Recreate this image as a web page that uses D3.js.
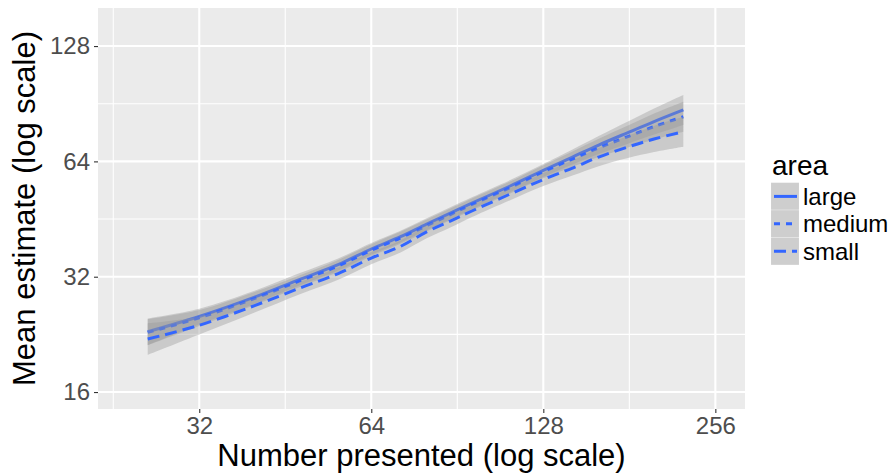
<!DOCTYPE html>
<html>
<head>
<meta charset="utf-8">
<script src="https://cdn.jsdelivr.net/npm/d3@7"></script>
<style>
  body { margin: 0; background: #fff; }
  text { font-family: "Liberation Sans", Arial, sans-serif; }
</style>
</head>
<body>
<svg id="chart"></svg>
<script>
// number presented (x) at which the smooths were sampled
const presented = [26, 32, 40, 48, 56, 64, 72, 80, 88, 96, 112, 128, 144, 160, 180, 200, 225];

const largeMean  = [23.0, 25.2, 28.3, 31.5, 34.4, 37.8, 40.7, 43.9, 46.9, 49.8, 55.2, 60.6, 65.7, 70.6, 76.1, 81.3, 87.2];
const largeLow   = [21.2, 24.0, 27.2, 30.4, 33.2, 36.5, 39.3, 42.3, 45.2, 48.0, 53.2, 58.3, 62.8, 66.9, 71.2, 75.2, 79.7];
const largeHigh  = [24.9, 26.4, 29.4, 32.7, 35.7, 39.2, 42.2, 45.5, 48.6, 51.6, 57.2, 63.0, 68.7, 74.5, 81.3, 87.9, 95.4];

const mediumMean = [22.9, 25.0, 28.1, 31.2, 34.1, 37.5, 40.4, 43.5, 46.5, 49.4, 54.7, 60.1, 64.9, 69.4, 74.3, 78.9, 83.7];
const mediumLow  = [21.2, 23.8, 27.0, 30.1, 32.9, 36.2, 39.0, 42.0, 44.9, 47.7, 52.8, 57.8, 62.0, 65.7, 69.6, 73.0, 76.5];
const mediumHigh = [24.8, 26.2, 29.2, 32.3, 35.4, 38.9, 41.9, 45.1, 48.2, 51.2, 56.7, 62.5, 67.9, 73.3, 79.4, 85.3, 91.6];

const smallMean  = [22.0, 23.9, 26.9, 29.9, 32.6, 35.8, 38.4, 41.9, 44.7, 47.5, 52.6, 57.4, 61.5, 65.7, 69.8, 73.2, 76.5];
const smallLow   = [20.0, 22.6, 25.8, 28.8, 31.4, 34.5, 37.0, 40.3, 43.0, 45.8, 50.7, 55.2, 58.8, 62.2, 65.3, 67.7, 69.9];
const smallHigh  = [24.2, 25.2, 28.1, 31.0, 33.8, 37.1, 39.8, 43.6, 46.5, 49.2, 54.5, 59.7, 64.3, 69.4, 74.6, 79.2, 83.7];

const areas = ["large", "medium", "small"];
const xTicks = [32, 64, 128, 256];
const yTicks = [16, 32, 64, 128];
const xMinor = [22.63, 45.25, 90.51, 181.02];
const yMinor = [22.63, 45.25, 90.51];

const width = 895;
const height = 475;
const panel = { left: 98, right: 745, top: 8, bottom: 409 };
const blue = "#3366FF";
const dashes = { large: null, medium: "6,6", small: "12,6" };

const series = [
  { name: "large", mean: largeMean, low: largeLow, high: largeHigh },
  { name: "medium", mean: mediumMean, low: mediumLow, high: mediumHigh },
  { name: "small", mean: smallMean, low: smallLow, high: smallHigh },
];

const x = d3.scaleLog().base(2).domain([21.28, 288.5]).range([panel.left, panel.right]);
const y = d3.scaleLog().base(2).domain([14.45, 160.9]).range([panel.bottom, panel.top]);

const svg = d3.select("#chart").attr("width", width).attr("height", height);

// panel
svg.append("rect")
  .attr("x", panel.left).attr("y", panel.top)
  .attr("width", panel.right - panel.left).attr("height", panel.bottom - panel.top)
  .attr("fill", "#EBEBEB");

const grid = svg.append("g").attr("stroke", "#fff");
grid.selectAll(".xminor").data(xMinor).join("line")
  .attr("x1", d => x(d)).attr("x2", d => x(d))
  .attr("y1", panel.top).attr("y2", panel.bottom).attr("stroke-width", 1.1);
grid.selectAll(".yminor").data(yMinor).join("line")
  .attr("y1", d => y(d)).attr("y2", d => y(d))
  .attr("x1", panel.left).attr("x2", panel.right).attr("stroke-width", 1.1);
grid.selectAll(".xmajor").data(xTicks).join("line")
  .attr("x1", d => x(d)).attr("x2", d => x(d))
  .attr("y1", panel.top).attr("y2", panel.bottom).attr("stroke-width", 2.1);
grid.selectAll(".ymajor").data(yTicks).join("line")
  .attr("y1", d => y(d)).attr("y2", d => y(d))
  .attr("x1", panel.left).attr("x2", panel.right).attr("stroke-width", 2.1);

// smooths: ribbon then line, per group
const band = d3.area()
  .x((d, i) => x(presented[i]))
  .y0(d => y(d[0])).y1(d => y(d[1]))
  .curve(d3.curveCatmullRom);
const line = d3.line()
  .x((d, i) => x(presented[i]))
  .y(d => y(d))
  .curve(d3.curveCatmullRom);

const plot = svg.append("g");
series.forEach(s => {
  plot.append("path")
    .attr("d", band(s.low.map((v, i) => [v, s.high[i]])))
    .attr("fill", "#999999").attr("fill-opacity", 0.4);
  plot.append("path")
    .attr("d", line(s.mean))
    .attr("fill", "none").attr("stroke", blue).attr("stroke-width", 3)
    .attr("stroke-dasharray", dashes[s.name]);
});

// axes
const xAxis = g => g
  .attr("transform", `translate(0,${panel.bottom})`)
  .call(d3.axisBottom(x).tickValues(xTicks).tickFormat(d3.format("d")).tickSize(4).tickPadding(4))
  .call(g => g.select(".domain").remove())
  .call(g => g.selectAll(".tick line").attr("stroke", "#333").attr("stroke-width", 1.1))
  .call(g => g.selectAll(".tick text").attr("fill", "#4D4D4D").attr("font-size", 24));
const yAxis = g => g
  .attr("transform", `translate(${panel.left},0)`)
  .call(d3.axisLeft(y).tickValues(yTicks).tickFormat(d3.format("d")).tickSize(4).tickPadding(4))
  .call(g => g.select(".domain").remove())
  .call(g => g.selectAll(".tick line").attr("stroke", "#333").attr("stroke-width", 1.1))
  .call(g => g.selectAll(".tick text").attr("fill", "#4D4D4D").attr("font-size", 24));

svg.append("g").call(xAxis).attr("font-family", null);
svg.append("g").call(yAxis).attr("font-family", null);

svg.append("text")
  .attr("x", (panel.left + panel.right) / 2).attr("y", 466)
  .attr("text-anchor", "middle").attr("font-size", 31).attr("fill", "#000")
  .text("Number presented (log scale)");
svg.append("text")
  .attr("transform", `translate(35,${(panel.top + panel.bottom) / 2}) rotate(-90)`)
  .attr("text-anchor", "middle").attr("font-size", 31).attr("fill", "#000")
  .text("Mean estimate (log scale)");

// legend
const legend = svg.append("g").attr("transform", "translate(771,0)");
legend.append("text").attr("x", 1).attr("y", 175).attr("font-size", 28).text("area");
const keyH = 27.4;
const keys = legend.selectAll(".key").data(areas).join("g")
  .attr("transform", (d, i) => `translate(0,${182.7 + i * keyH})`);
keys.append("rect").attr("width", 28).attr("height", keyH).attr("fill", "#F2F2F2")
  .attr("stroke", "#fff").attr("stroke-width", 0.6);
keys.append("rect").attr("width", 28).attr("height", keyH).attr("fill", "#999999").attr("fill-opacity", 0.4);
keys.append("line")
  .attr("x1", 3).attr("x2", 26).attr("y1", keyH / 2).attr("y2", keyH / 2)
  .attr("stroke", blue).attr("stroke-width", 3)
  .attr("stroke-dasharray", d => dashes[d]);
keys.append("text")
  .attr("x", 32).attr("y", keyH / 2 + 8.5)
  .attr("font-size", 24).text(d => d);
</script>
</body>
</html>
